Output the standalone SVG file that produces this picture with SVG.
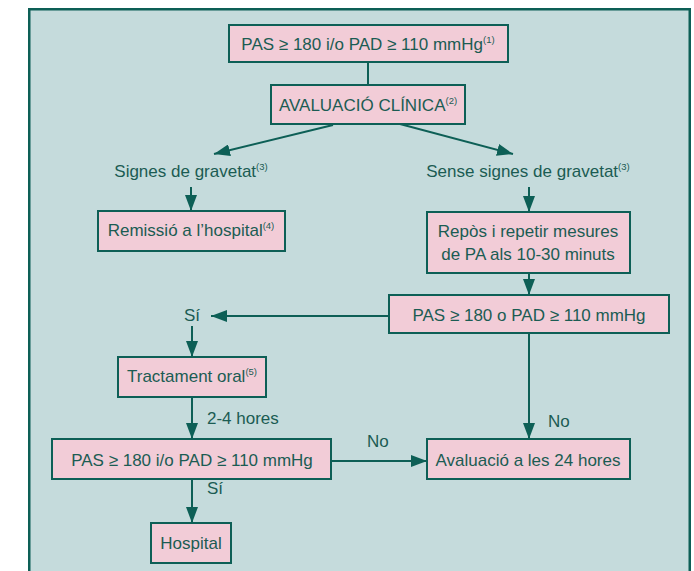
<svg xmlns="http://www.w3.org/2000/svg" width="694" height="571" viewBox="0 0 694 571">
  <defs>
    <marker id="arrow" viewBox="0 0 16 12" refX="16" refY="6" markerWidth="16" markerHeight="12" markerUnits="userSpaceOnUse" orient="auto">
      <path d="M0,0 L16,6 L0,12 Z" fill="#0d5f56"/>
    </marker>
    <style>
      .frame { fill: #c5dbdc; stroke: #0d5f56; stroke-width: 2.5; }
      .box { fill: #f2ccd7; stroke: #0d5f56; stroke-width: 2; }
      .t { font-family: "Liberation Sans", Arial, sans-serif; font-size: 17px; fill: #1b5c53; text-anchor: middle; }
      .l { font-family: "Liberation Sans", Arial, sans-serif; font-size: 17px; fill: #1b5c53; }
      .sup { font-size: 9.5px; }
      .c { fill: none; stroke: #0d5f56; stroke-width: 2; }
    </style>
  </defs>

  <rect x="0" y="0" width="694" height="571" fill="#ffffff"/>
  <rect class="frame" x="29.25" y="9.25" width="660.5" height="575"/>

  <g id="connectors">
    <path class="c" d="M368,62 V85"/>
    <path class="c" d="M333,125 L214,154" marker-end="url(#arrow)"/>
    <path class="c" d="M400,124 L513,154" marker-end="url(#arrow)"/>
    <path class="c" d="M191,187 V211" marker-end="url(#arrow)"/>
    <path class="c" d="M529,187 V212" marker-end="url(#arrow)"/>
    <path class="c" d="M529,273 V295" marker-end="url(#arrow)"/>
    <path class="c" d="M389,316 H211" marker-end="url(#arrow)"/>
    <path class="c" d="M192,326 V357" marker-end="url(#arrow)"/>
    <path class="c" d="M192,397 V439" marker-end="url(#arrow)"/>
    <path class="c" d="M192,479 V523" marker-end="url(#arrow)"/>
    <path class="c" d="M331,461 H427" marker-end="url(#arrow)"/>
    <path class="c" d="M529,333 V439" marker-end="url(#arrow)"/>
  </g>

  <g id="n-criteri">
    <rect class="box" x="229" y="25" width="279" height="37"/>
    <text class="t" x="368" y="50">PAS ≥ 180 i/o PAD ≥ 110 mmHg<tspan class="sup" dy="-7">(1)</tspan></text>
  </g>

  <g id="n-avaluacio">
    <rect class="box" x="271" y="85" width="194" height="39"/>
    <text class="t" x="368" y="111">AVALUACIÓ CLÍNICA<tspan class="sup" dy="-7">(2)</tspan></text>
  </g>

  <g id="n-signes">
    <text class="t" x="191" y="177">Signes de gravetat<tspan class="sup" dy="-7">(3)</tspan></text>
  </g>

  <g id="n-sense">
    <text class="t" x="528" y="177">Sense signes de gravetat<tspan class="sup" dy="-7">(3)</tspan></text>
  </g>

  <g id="n-remissio">
    <rect class="box" x="98" y="211" width="187" height="40"/>
    <text class="t" x="191" y="236">Remissió a l’hospital<tspan class="sup" dy="-7">(4)</tspan></text>
  </g>

  <g id="n-repos">
    <rect class="box" x="427" y="212" width="203" height="61"/>
    <text class="t" x="528" y="237">Repòs i repetir mesures</text>
    <text class="t" x="528" y="260">de PA als 10-30 minuts</text>
  </g>

  <g id="n-pas2">
    <rect class="box" x="389" y="295" width="280" height="38"/>
    <text class="t" x="529" y="321">PAS ≥ 180 o PAD ≥ 110 mmHg</text>
  </g>

  <g id="n-si1">
    <text class="t" x="192" y="321">Sí</text>
  </g>

  <g id="n-tractament">
    <rect class="box" x="118" y="357" width="148" height="40"/>
    <text class="t" x="192" y="382">Tractament oral<tspan class="sup" dy="-7">(5)</tspan></text>
  </g>

  <text class="l" x="207" y="424">2-4 hores</text>

  <g id="n-pas3">
    <rect class="box" x="52" y="439" width="279" height="40"/>
    <text class="t" x="192" y="466">PAS ≥ 180 i/o PAD ≥ 110 mmHg</text>
  </g>

  <text class="l" x="207" y="494">Sí</text>
  <text class="l" x="367" y="447">No</text>
  <text class="l" x="548" y="427">No</text>

  <g id="n-avaluacio24">
    <rect class="box" x="427" y="439" width="203" height="40"/>
    <text class="t" x="528" y="466">Avaluació a les 24 hores</text>
  </g>

  <g id="n-hospital">
    <rect class="box" x="151" y="523" width="80" height="40"/>
    <text class="t" x="191" y="549">Hospital</text>
  </g>
</svg>
